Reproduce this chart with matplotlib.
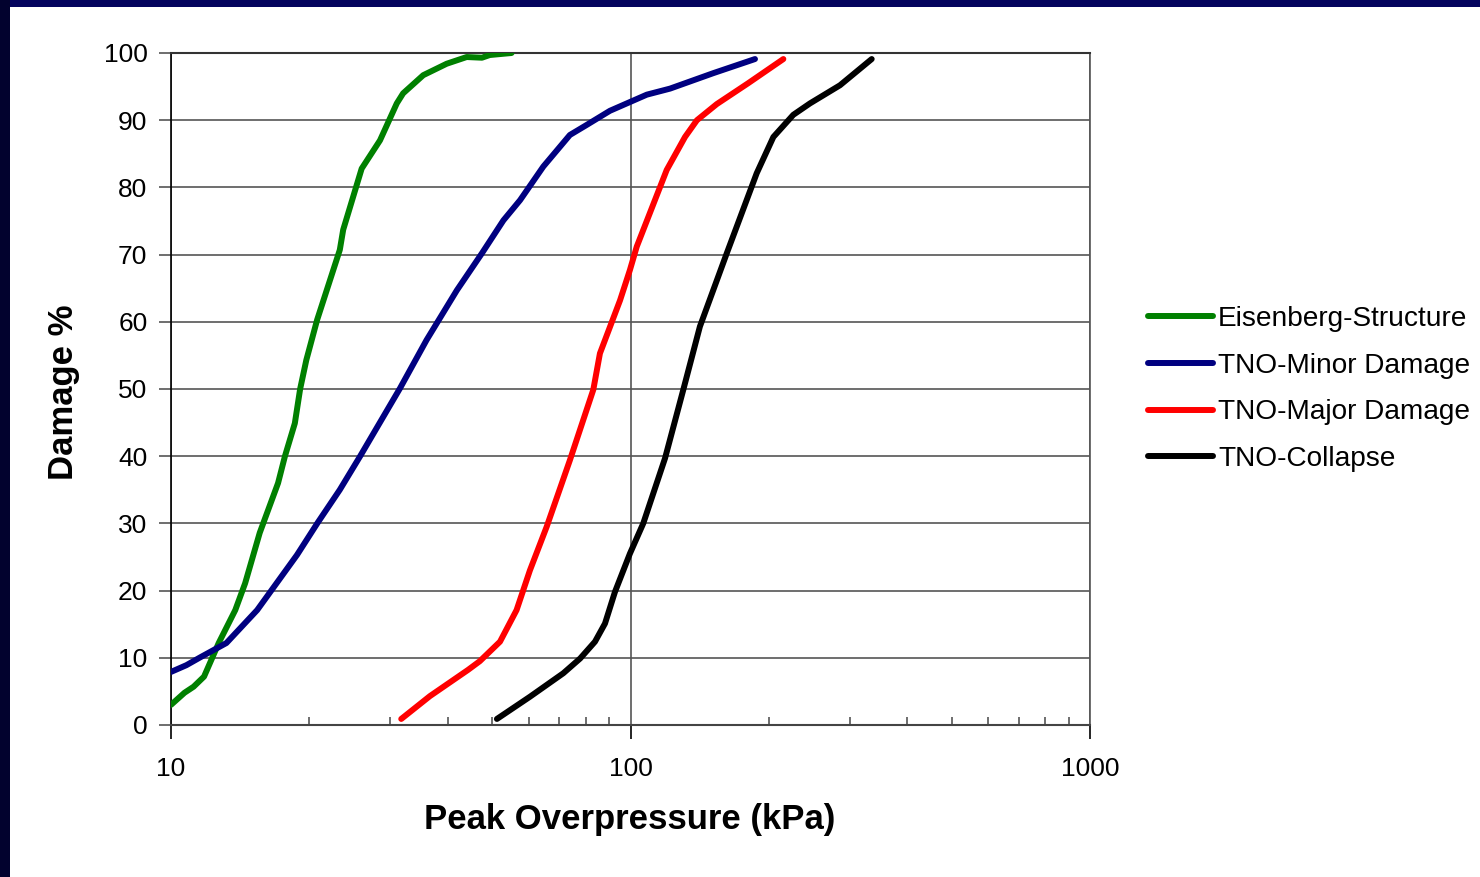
import matplotlib
matplotlib.use('Agg')
from matplotlib import pyplot as plt
from matplotlib import ticker
from matplotlib.patches import Rectangle

plt.rcParams['font.family'] = ['Liberation Sans', 'DejaVu Sans']

# Eisenberg - structure
eis_kpa = [10.0, 10.7, 11.2, 11.8, 12.7, 13.8, 14.5, 15.6, 17.1, 17.7, 18.6, 19.1,
           19.7, 20.8, 23.3, 23.7, 26.0, 28.5, 31.0, 32.0, 35.4, 39.8, 44.0, 47.5,
           49.4, 55.1]
eis_dmg = [3.0, 4.8, 5.7, 7.2, 12.2, 17.1, 21.1, 28.6, 36.0, 40.0, 44.9, 50.0,
           54.3, 60.3, 70.7, 73.7, 82.8, 87.0, 92.5, 94.0, 96.7, 98.4, 99.4, 99.3,
           99.7, 100.0]

# TNO minor damage
minor_kpa = [10.0, 10.8, 11.6, 13.2, 15.4, 18.8, 20.9, 23.3, 25.8, 31.5, 36.0, 41.9,
             47.5, 52.9, 57.5, 64.6, 73.8, 80.3, 90.2, 108.5, 121.9, 151.4, 186.6]
minor_dmg = [7.9, 8.9, 10.1, 12.2, 17.1, 25.3, 30.2, 35.0, 40.0, 50.1, 57.3, 64.7,
             70.2, 75.1, 78.1, 83.1, 87.8, 89.3, 91.4, 93.8, 94.7, 97.0, 99.1]

# TNO major damage
major_kpa = [31.7, 36.6, 44.3, 47.0, 52.0, 56.5, 60.4, 65.7, 73.8, 83.0, 85.8, 94.9,
             99.7, 103.2, 119.9, 131.4, 139.5, 154.1, 180.3, 215.1]
major_dmg = [0.9, 4.3, 8.2, 9.5, 12.4, 17.1, 23.0, 29.5, 39.4, 49.9, 55.3, 63.2,
             67.7, 71.2, 82.6, 87.5, 90.0, 92.4, 95.5, 99.1]

# TNO collapse
coll_kpa = [51.2, 60.4, 71.4, 77.7, 83.7, 88.0, 92.5, 99.7, 106.6, 118.9, 130.3, 141.6,
            162.0, 188.2, 204.6, 226.1, 245.8, 285.7, 334.9]
coll_dmg = [0.9, 4.2, 7.7, 9.9, 12.4, 15.1, 19.8, 25.5, 30.0, 39.7, 49.9, 59.3,
            70.2, 82.1, 87.5, 90.8, 92.5, 95.2, 99.1]

series = [
    ('Eisenberg-Structure', eis_kpa, eis_dmg, '#008000'),
    ('TNO-Minor Damage', minor_kpa, minor_dmg, '#000080'),
    ('TNO-Major Damage', major_kpa, major_dmg, '#ff0000'),
    ('TNO-Collapse', coll_kpa, coll_dmg, '#000000'),
]

fig = plt.figure(figsize=(14.8, 8.77), dpi=100)
fig.patch.set_facecolor('white')
# dark slide border (top and left)
fig.patches.append(Rectangle((0, 1 - 7 / 877), 1, 7 / 877, transform=fig.transFigure,
                             facecolor='#04045e', edgecolor='none', zorder=0))
fig.patches.append(Rectangle((0, 0), 10 / 1480, 1, transform=fig.transFigure,
                             facecolor='#02022e', edgecolor='none', zorder=0))

ax = fig.add_axes([171 / 1480, 1 - 725 / 877, 919 / 1480, 672 / 877])

for name, xs, ys, col in series:
    ax.plot(xs, ys, color=col, lw=4.3, label=name, solid_capstyle='round',
            solid_joinstyle='round', zorder=3)

ax.set_xscale('log')
ax.set_xlim(10, 1000)
ax.set_ylim(0, 100)
ax.set_yticks(range(0, 101, 10))
ax.xaxis.set_major_formatter(ticker.FuncFormatter(lambda v, p: f'{v:g}'))
ax.xaxis.set_minor_formatter(ticker.NullFormatter())

ax.grid(True, which='major', color='#555555', lw=1.2, zorder=1)
ax.tick_params(axis='y', which='major', direction='out', length=9, width=1.2,
               color='#555555', labelsize=19, pad=8)
ax.tick_params(axis='x', which='major', direction='out', length=10, width=1.2,
               color='black', labelsize=19, pad=13)
ax.tick_params(axis='x', which='minor', direction='in', length=6, width=1.2,
               color='#555555')

ax.spines['left'].set_color('black')
ax.spines['left'].set_linewidth(1.2)
ax.spines['bottom'].set_color('#444444')
ax.spines['bottom'].set_linewidth(1.5)
ax.spines['top'].set_color('#333333')
ax.spines['top'].set_linewidth(1.5)
ax.spines['right'].set_color('#555555')
ax.spines['right'].set_linewidth(1.2)

fig.text(630 / 1480, 1 - 820 / 877, 'Peak Overpressure (kPa)', ha='center', va='center',
         fontsize=25, fontweight='bold')
fig.text(63 / 1480, 1 - 392 / 877, 'Damage %', ha='center', va='center', rotation=90,
         fontsize=25, fontweight='bold')

ax.legend(loc='center left', bbox_to_anchor=((1148 - 171) / 919, 0.5), frameon=False,
          fontsize=20.2, handlelength=2.3, handletextpad=0.2, labelspacing=0.74,
          borderpad=0, borderaxespad=0)

fig.savefig('out.png', dpi=100)
